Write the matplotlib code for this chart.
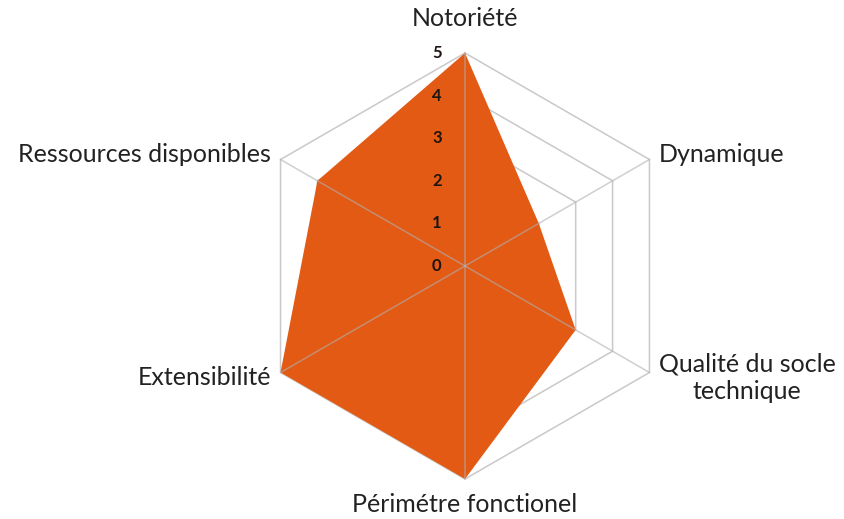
import numpy as np
import matplotlib.pyplot as plt

# Data
categories = ['Notoriété', 'Dynamique', 'Qualité du socle\ntechnique',
              'Périmétre fonctionel', 'Extensibilité', 'Ressources disponibles']
values = [5, 2, 3, 5, 5, 4]
ticks = [0, 1, 2, 3, 4, 5]

plt.rcParams['font.family'] = ['Lato', 'DejaVu Sans']

fig = plt.figure(figsize=(8.45, 5.19), dpi=100)
ax = fig.add_axes([0, 0, 1, 1])
scale = 42.6  # px per unit
ax.set_xlim(-465 / scale, 380 / scale)
ax.set_ylim(-(519 - 266) / scale, 266 / scale)
ax.axis('off')

n = len(categories)
theta = np.arange(n) * 2 * np.pi / n
sx, sy = np.sin(theta), np.cos(theta)

grid_col = '#c9c9c9'
# rings
for t in ticks[1:]:
    ax.plot(np.append(sx, sx[0]) * t, np.append(sy, sy[0]) * t,
            color=grid_col, lw=1.1, zorder=1)

# filled series
v = np.array(values, dtype=float)
ax.fill(v * sx, v * sy, color='#E35A14', zorder=2, lw=0)

# spokes
for i in range(n):
    ax.plot([0, sx[i] * ticks[-1]], [0, sy[i] * ticks[-1]],
            color='#b0b0b0', lw=1.1, alpha=0.6, zorder=3)

# tick labels
for t in ticks:
    ax.text(-0.66, t, str(t), ha='center', va='center', fontsize=12,
            fontweight='bold', color='#1e1410', zorder=4)

# category labels
fs = 18
for i, lab in enumerate(categories):
    if i == 0:
        ax.text(0, 5.82, lab, ha='center', va='center', fontsize=fs, color='#222222')
    elif i == n // 2:
        ax.text(0, -5.6, lab, ha='center', va='center', fontsize=fs, color='#222222')
    else:
        r = 5.25
        ha = 'left' if sx[i] > 0 else 'right'
        ax.text(sx[i] * r, sy[i] * r, lab, ha=ha, va='center', fontsize=fs,
                color='#222222', multialignment='center', linespacing=1.25)

fig.savefig('out.png', dpi=100, facecolor='white')
